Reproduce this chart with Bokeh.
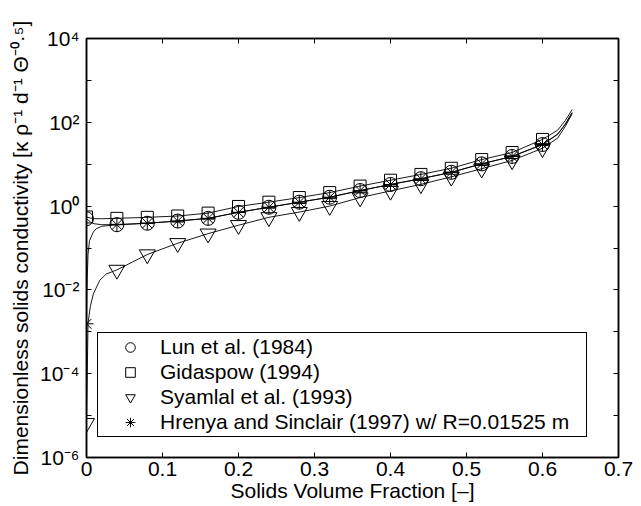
from bokeh.plotting import figure
from bokeh.models import (FixedTicker, CustomJSTickFormatter, LinearAxis, LogAxis,
                          Legend, LegendItem, Range1d)
from bokeh.embed import file_html
from bokeh.resources import INLINE

# ---------------- data ----------------
x_ticks = [0.0, 0.1, 0.2, 0.3, 0.4, 0.5, 0.6, 0.7]
x_tick_labels = ["0", "0.1", "0.2", "0.3", "0.4", "0.5", "0.6", "0.7"]
y_ticks = [1e-6, 1e-5, 1e-4, 1e-3, 1e-2, 1e-1, 1e0, 1e1, 1e2, 1e3, 1e4]
y_tick_labels = ["10⁻⁶", "", "10⁻⁴", "", "10⁻²", "", "10⁰", "", "10²", "", "10⁴"]

series_names = ["Lun et al. (1984)", "Gidaspow (1994)", "Syamlal et al. (1993)",
                "Hrenya and Sinclair (1997) w/ R=0.01525 m"]

marker_x = [0.00, 0.04, 0.08, 0.12, 0.16, 0.20, 0.24, 0.28,
            0.32, 0.36, 0.40, 0.44, 0.48, 0.52, 0.56, 0.60]
lun_y = [0.50, 0.36, 0.39, 0.44, 0.51, 0.71, 0.94, 1.24,
         1.63, 2.35, 3.28, 4.5, 6.4, 10.2, 15.3, 29.5]
gidaspow_y = [0.55, 0.51, 0.54, 0.58, 0.68, 0.98, 1.24, 1.6,
              2.1, 3.0, 4.15, 5.7, 8.0, 12.9, 19.0, 39.0]
syamlal_y = [6.6e-6, 0.03, 0.07, 0.13, 0.22, 0.35, 0.54, 0.72,
             1.0, 1.6, 2.3, 3.3, 5.0, 7.8, 12.3, 24.0]
hrenya_y = [1.55e-3, 0.36, 0.39, 0.44, 0.51, 0.71, 0.94, 1.24,
            1.63, 2.35, 3.28, 4.5, 6.4, 10.2, 15.3, 29.5]

# traced curve samples (head near x=0 and tail up to packing limit)
lun_head_x = [0.0, 0.005, 0.01, 0.02]
lun_head_y = [0.50, 0.42, 0.38, 0.36]
lun_tail_x = [0.62, 0.63, 0.639]
lun_tail_y = [52.0, 90.0, 170.0]

gidaspow_head_x = [0.0, 0.005, 0.01, 0.02]
gidaspow_head_y = [0.55, 0.52, 0.50, 0.50]
gidaspow_tail_x = [0.62, 0.63, 0.639]
gidaspow_tail_y = [65.0, 110.0, 200.0]

syamlal_head_x = [0.0, 0.002, 0.005, 0.009, 0.0175, 0.026]
syamlal_head_y = [6.6e-6, 1.6e-3, 4e-3, 8e-3, 0.017, 0.024]
syamlal_tail_x = [0.62, 0.63, 0.639]
syamlal_tail_y = [42.0, 80.0, 160.0]

hrenya_head_x = [0.0, 0.0005, 0.001, 0.002, 0.004, 0.009, 0.013, 0.02]
hrenya_head_y = [1.55e-3, 0.008, 0.02, 0.07, 0.15, 0.24, 0.29, 0.33]
hrenya_tail_x = [0.62, 0.63, 0.639]
hrenya_tail_y = [52.0, 90.0, 170.0]

# ---------------- figure ----------------
FONT = "Liberation Sans"
FS = "21px"
p = figure(width=641, height=506, output_backend="svg", toolbar_location=None,
           x_range=Range1d(0, 0.7), y_range=Range1d(1e-6, 1e4), y_axis_type="log",
           min_border_left=86, min_border_right=23, min_border_top=38, min_border_bottom=49)
p.grid.visible = False
p.outline_line_color = "black"
p.outline_line_width = 1.5
p.outline_line_alpha = 1.0
p.background_fill_color = "white"
p.border_fill_color = "white"

def style_axis(ax):
    ax.axis_line_color = "black"
    ax.axis_line_width = 1.5
    ax.major_tick_in = 5
    ax.major_tick_out = 0
    ax.minor_tick_line_color = None
    ax.major_tick_line_color = "black"
    ax.major_label_text_font = FONT
    ax.major_label_text_font_size = FS
    ax.major_label_text_color = "black"
    ax.axis_label_text_font = FONT
    ax.axis_label_text_font_size = FS
    ax.axis_label_text_font_style = "normal"
    ax.axis_label_text_color = "black"

xt = FixedTicker(ticks=x_ticks, minor_ticks=[])
yt = FixedTicker(ticks=y_ticks, minor_ticks=[])
yfmt = CustomJSTickFormatter(args=dict(tvals=y_ticks, labs=y_tick_labels), code="""
let best = 0, bd = Infinity;
for (let i = 0; i < tvals.length; i++) {
  const d = Math.abs(Math.log10(tvals[i]) - Math.log10(tick));
  if (d < bd) { bd = d; best = i; }
}
return labs[best];
""")
empty_fmt = CustomJSTickFormatter(code="return '';")

xa = p.xaxis[0]
style_axis(xa)
xa.ticker = xt
xa.major_label_overrides = {t: l for t, l in zip(x_ticks, x_tick_labels)}
xa.major_label_standoff = 4
xa.axis_label = "Solids Volume Fraction [–]"
xa.axis_label_standoff = 0

ya = p.yaxis[0]
style_axis(ya)
ya.ticker = yt
ya.formatter = yfmt
ya.major_label_standoff = 7
ya.axis_label = "Dimensionless solids conductivity [κ ρ⁻¹ d⁻¹ Θ⁻⁰·⁵]"
ya.axis_label_standoff = 5

top_ax = LinearAxis(ticker=FixedTicker(ticks=x_ticks, minor_ticks=[]), formatter=empty_fmt)
style_axis(top_ax)
top_ax.major_label_text_font_size = "1px"
p.add_layout(top_ax, "above")
right_ax = LogAxis(ticker=FixedTicker(ticks=y_ticks, minor_ticks=[]), formatter=empty_fmt)
style_axis(right_ax)
right_ax.major_label_text_font_size = "1px"
p.add_layout(right_ax, "right")

# ---------------- curves ----------------
LW = 0.9
p.line(gidaspow_head_x + marker_x[1:] + gidaspow_tail_x,
       gidaspow_head_y + gidaspow_y[1:] + gidaspow_tail_y, line_color="black", line_width=LW)
p.line(lun_head_x + marker_x[1:] + lun_tail_x,
       lun_head_y + lun_y[1:] + lun_tail_y, line_color="black", line_width=LW)
p.line(syamlal_head_x + marker_x[1:] + syamlal_tail_x,
       syamlal_head_y + syamlal_y[1:] + syamlal_tail_y, line_color="black", line_width=LW)
p.line(hrenya_head_x + marker_x[1:] + hrenya_tail_x,
       hrenya_head_y + hrenya_y[1:] + hrenya_tail_y, line_color="black", line_width=LW)

# ---------------- markers ----------------
r_lun = p.scatter(marker_x, lun_y, marker="circle", size=14, line_color="black",
                  fill_color=None, line_width=1)
r_gid = p.scatter(marker_x, gidaspow_y, marker="square", size=12, line_color="black",
                  fill_color=None, line_width=1)
r_sya = p.scatter(marker_x, syamlal_y, marker="inverted_triangle", size=16, line_color="black",
                  fill_color=None, line_width=1)
r_hre = p.scatter(marker_x, hrenya_y, marker="asterisk", size=14, line_color="black",
                  fill_color=None, line_width=1)

legend = Legend(items=[LegendItem(label=series_names[0], renderers=[r_lun]),
                       LegendItem(label=series_names[1], renderers=[r_gid]),
                       LegendItem(label=series_names[2], renderers=[r_sya]),
                       LegendItem(label=series_names[3], renderers=[r_hre])],
                location=(11, 20))
legend.label_text_font = FONT
legend.label_text_font_size = FS
legend.label_text_color = "black"
legend.border_line_color = "black"
legend.border_line_alpha = 1.0
legend.border_line_width = 1.5
legend.background_fill_color = "white"
legend.background_fill_alpha = 1.0
legend.padding = 2
legend.margin = 0
legend.spacing = 1
legend.glyph_width = 60
legend.glyph_height = 24
legend.label_height = 24
legend.label_standoff = 0
legend.label_width = 424
p.add_layout(legend)

open("out.html", "w").write(file_html(p, INLINE))
